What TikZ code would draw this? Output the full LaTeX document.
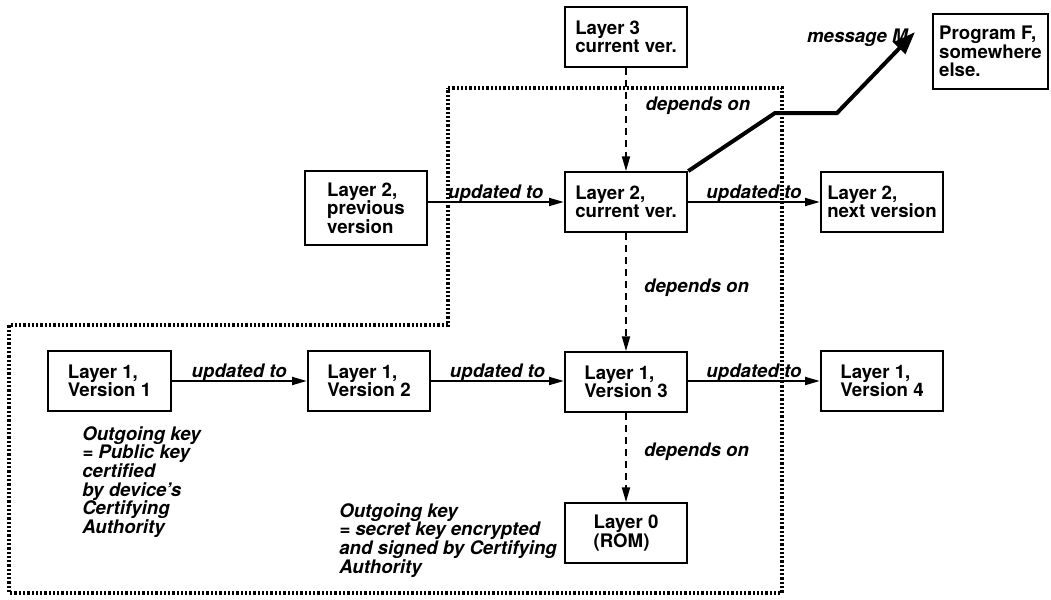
\documentclass[tikz,border=0pt]{standalone}
\usepackage{fontspec}
\setmainfont{TeX Gyre Heros}
\usepackage{tikz}
\usetikzlibrary{arrows.meta}
\usetikzlibrary{calc}

\begin{document}
\begin{tikzpicture}[x=0.75pt, y=-0.75pt,
  >={Triangle[length=11pt, width=6pt]},
  layer/.style={draw, line width=1.4pt, align=left, minimum width=92pt,
    minimum height=45pt, font=\bfseries\fontsize{14}{13.8}\selectfont},
  upd/.style={->, line width=1.3pt},
  dep/.style={->, line width=1.3pt, dash pattern=on 5.5pt off 3.5pt},
  lbl/.style={font=\bfseries\itshape\fontsize{14}{14}\selectfont, inner sep=0pt},
  note/.style={lbl, align=left, anchor=north west},
  bound/.style={line width=2.8pt, dash pattern=on 1.7pt off 1.5pt}]
  \fill[white] (0, 0) rectangle (1051, 600);
  \useasboundingbox (0, 0) rectangle (1051, 600);

  % the boxes
  \node[layer] (l3) at (626, 37) {Layer 3\\current ver.};
  \node[layer, minimum width=86pt, minimum height=56pt] (prog) at (990.5, 51.5) {Program F,\\somewhere\\else.};
  \node[layer, minimum width=91pt, minimum height=55.5pt] (l2prev) at (366, 208) {Layer 2,\\previous\\version};
  \node[layer] (l2cur) at (626, 202) {Layer 2,\\current ver.};
  \node[layer] (l2next) at (882, 202) {Layer 2,\\next version};
  \node[layer] (v1) at (109.5, 381) {Layer 1,\\Version 1};
  \node[layer] (v2) at (369, 381) {Layer 1,\\Version 2};
  \node[layer] (v3) at (626, 382) {Layer 1,\\Version 3};
  \node[layer] (v4) at (882, 381) {Layer 1,\\Version 4};
  \node[layer] (l0) at (626, 533) {Layer 0\\(ROM)};

  % the dotted boundary
  \draw[bound] (448, 88) -- (782, 88) -- (782, 593) -- (9, 593) -- (9, 325) -- (448, 325) -- cycle;

  % updates
  \draw[upd] (l2prev.east |- l2cur.west) -- node[midway, lbl, anchor=base, yshift=2.5pt] {updated to} (l2cur.west);
  \draw[upd] (l2cur.east) -- node[midway, lbl, anchor=base, yshift=2.5pt] {updated to} (l2next.west |- l2cur.east);
  \draw[upd] (v1.east) -- node[midway, lbl, anchor=base, yshift=2.5pt] {updated to} (v2.west);
  \draw[upd] (v2.east) -- node[midway, lbl, anchor=base, yshift=2.5pt] {updated to} (v3.west |- v2.east);
  \draw[upd] (v3.east |- v4.west) -- node[midway, lbl, anchor=base, yshift=2.5pt] {updated to} (v4.west);

  % dependencies
  \draw[dep] (l3.south) -- node[pos=0.37, lbl, anchor=west, xshift=14pt] {depends on} (l3.south |- l2cur.north);
  \draw[dep] (l2cur.south) -- node[pos=0.46, lbl, anchor=west, xshift=13pt] {depends on} (l2cur.south |- v3.north);
  \draw[dep] (v3.south) -- node[pos=0.44, lbl, anchor=west, xshift=13pt] {depends on} (v3.south |- l0.north);

  % message to the outside
  \coordinate (mtip) at (915, 32);
  \draw[line width=3pt, -{Triangle[length=17pt, width=12pt]}] (l2cur.north east) -- (775, 113) -- (837, 113) -- (mtip);
  \node[lbl, anchor=base east] (msg) at (908, 42) {message M};

  % the keys
  \node[note] (key1) at (82, 426) {Outgoing key\\= Public key\\certified\\by device’s\\Certifying\\Authority};
  \node[note] (key0) at (339, 503) {Outgoing key\\= secret key encrypted\\and signed by Certifying\\Authority};
\end{tikzpicture}
\end{document}
